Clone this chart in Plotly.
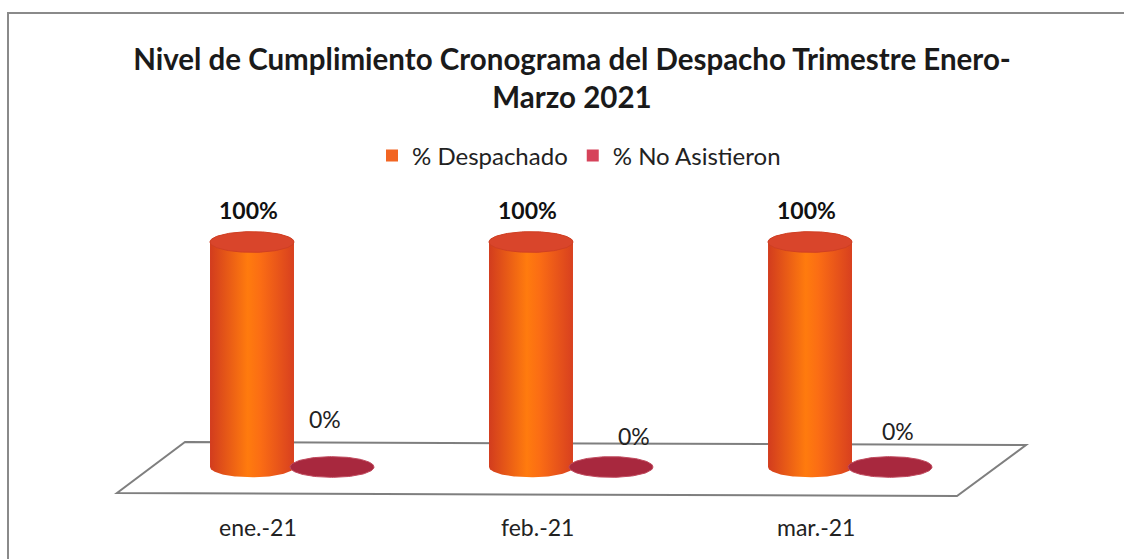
import numpy as np
import plotly.graph_objects as go

# ---------------- data ----------------
categories = ["ene.-21", "feb.-21", "mar.-21"]
despachado = [1.0, 1.0, 1.0]
no_asistieron = [0.0, 0.0, 0.0]
series_names = ["% Despachado", "% No Asistieron"]
title_text = "Nivel de Cumplimiento Cronograma del Despacho Trimestre Enero-<br>Marzo 2021"

# ---------------- styling / geometry ----------------
W, H = 1124, 559
FONT = "Lato"
X_RANGE = [-1.0466, 2.982]
Y_RANGE = [-0.4089, 2.0756]
OFF = 0.1434      # half distance between the two series inside a group
RX = 0.1505       # cylinder radius (x units)
RY = 0.046        # ellipse half-height (y units)

body_scale = {
    0: [[0, "#D23C1E"], [0.45, "#FF7B0E"], [0.6, "#FB6D14"], [1, "#D8401F"]],
    1: [[0, "#8E1F33"], [0.5, "#B83048"], [1, "#8E1F33"]],
}
cap_fill = {0: "#D9452B", 1: "#A8283E"}
cap_line = {0: "#CF3F24", 1: "#C04A5E"}
legend_color = ["#F26522", "#D6435A"]

# per-category label tweaks (pixel shifts) as in the picture
zero_dx = [-7, 23, 8]
zero_dy = [48, 31, 36]

fig = go.Figure()


def add_bar(xc, v, s):
    if v > 0:
        ab = np.linspace(np.pi, 2 * np.pi, 80)
        at = np.linspace(0, np.pi, 80)
        xs = np.concatenate([xc + RX * np.cos(ab), xc + RX * np.cos(at)])
        ys = np.concatenate([RY * np.sin(ab), v + RY * np.sin(at)])
        fig.add_trace(go.Scatter(
            x=xs, y=ys, mode="lines", fill="toself",
            line=dict(width=0, color=body_scale[s][0][1]),
            fillgradient=dict(type="horizontal", colorscale=body_scale[s]),
            showlegend=False, hoverinfo="skip"))
    ac = np.linspace(0, 2 * np.pi, 120)
    fig.add_trace(go.Scatter(
        x=xc + RX * np.cos(ac), y=v + RY * np.sin(ac), mode="lines",
        fill="toself", fillcolor=cap_fill[s],
        line=dict(width=1, color=cap_line[s]),
        showlegend=False, hoverinfo="skip"))


for i, cat in enumerate(categories):
    add_bar(i - OFF, despachado[i], 0)
    add_bar(i + OFF, no_asistieron[i], 1)

# legend entries
for s, name in enumerate(series_names):
    fig.add_trace(go.Scatter(
        x=[None], y=[None], mode="markers", name=name,
        marker=dict(symbol="square", size=12, color=legend_color[s])))

ann = []
for i, cat in enumerate(categories):
    ann.append(dict(x=i - OFF, y=despachado[i], xref="x", yref="y",
                    text=f"<b>{despachado[i]:.0%}</b>", showarrow=False,
                    yshift=32, xshift=-4,
                    font=dict(family=FONT, size=23, color="#111111")))
    ann.append(dict(x=i + OFF, y=no_asistieron[i], xref="x", yref="y",
                    text=f"{no_asistieron[i]:.0%}", showarrow=False,
                    yshift=zero_dy[i], xshift=zero_dx[i],
                    font=dict(family=FONT, size=23, color="#222222")))
    ann.append(dict(x=i - OFF, y=0, xref="x", yref="y",
                    text=cat, showarrow=False, yshift=-60, xshift=6,
                    font=dict(family=FONT, size=23, color="#222222")))

shapes = [
    # chart border
    dict(type="rect", xref="paper", yref="paper",
         x0=8 / W, x1=1.02, y0=-0.02, y1=1 - 13 / H,
         line=dict(color="#8a8a8a", width=2), layer="below"),
    # floor
    dict(type="path", xref="paper", yref="paper",
         path=(f"M {185/W} {1-442/H} L {1026/W} {1-445/H} "
               f"L {957/W} {1-496/H} L {117/W} {1-493/H} Z"),
         line=dict(color="#7f7f7f", width=2), fillcolor="white", layer="below"),
]

fig.update_layout(
    width=W, height=H,
    margin=dict(l=0, r=0, t=0, b=0),
    paper_bgcolor="white", plot_bgcolor="rgba(0,0,0,0)",
    title=dict(text=f"<b>{title_text}</b>", x=572 / W, xanchor="center",
               y=1 - 70 / H, yanchor="middle", yref="container",
               font=dict(family=FONT, size=29.5, color="#1a1a1a")),
    legend=dict(orientation="h", x=579 / W, xanchor="center",
                y=1 - 156 / H, yanchor="middle",
                font=dict(family=FONT, size=24, color="#222222"),
                itemsizing="constant", traceorder="normal",
                bgcolor="rgba(0,0,0,0)"),
    xaxis=dict(range=X_RANGE, visible=False, fixedrange=True),
    yaxis=dict(range=Y_RANGE, visible=False, fixedrange=True),
    annotations=ann, shapes=shapes,
    showlegend=True,
)

fig.write_html("out.html",
               config={"displayModeBar": False},
               post_script="document.body.style.margin='0px';"
                           "document.body.style.overflow='hidden';")
